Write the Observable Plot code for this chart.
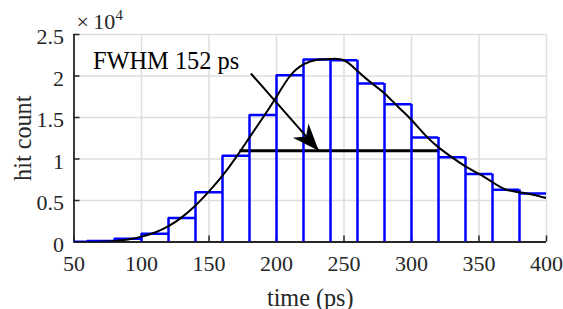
<!DOCTYPE html>
<html><head><meta charset="utf-8">
<script src="https://cdn.jsdelivr.net/npm/d3@7"></script>
<script src="https://cdn.jsdelivr.net/npm/@observablehq/plot@0.6"></script>
<style>body{margin:0;background:#fff} svg{display:block}</style>
</head><body><div id="chart"></div>
<script>
// histogram bins (ps) and hit counts
const binLo  = [40, 60, 80, 100, 120, 140, 160, 180, 200, 220, 240, 260, 280, 300, 320, 340, 360, 380];
const binHi  = [60, 80, 100, 120, 140, 160, 180, 200, 220, 240, 260, 280, 300, 320, 340, 360, 380, 400];
const counts = [30, 120, 400, 1000, 2900, 6000, 10400, 15300, 20100, 22000, 21900, 19100, 16600, 12600, 10200, 8200, 6300, 5850];

// fitted curve
const fitX = [50, 60, 70, 80, 90, 100, 110, 120, 130, 140, 150, 160, 170, 180, 190, 200, 210, 220, 230, 240, 250, 260, 270, 280, 290, 300, 310, 320, 330, 340, 350, 360, 370, 380, 390, 400];
const fitY = [0, 10, 40, 120, 300, 650, 1150, 1900, 3000, 4400, 6100, 8000, 10200, 12600, 15000, 17500, 20000, 21400, 21950, 22050, 21900, 20600, 19200, 17900, 16300, 14700, 12900, 11400, 10200, 9100, 8200, 7200, 6300, 6000, 5700, 5300];

// FWHM annotation
const fwhmStart = 173, fwhmEnd = 320, fwhmLevel = 11000;
const annotText = "FWHM 152 ps";
const textX = 64, textY = 20870;
const arrowFrom = [181, 20300], arrowTo = [231.3, 11000];

// axes
const xTicks = [50, 100, 150, 200, 250, 300, 350, 400];
const yTicks = [0, 5000, 10000, 15000, 20000, 25000];
const yTickLabels = ["0", "0.5", "1", "1.5", "2", "2.5"];
const xLabel = "time (ps)", yLabel = "hit count";
const expBase = "\u00d7\u200910", expPow = "4";

const tops = binLo.map((lo, i) => ({x1: lo, x2: binHi[i], y: counts[i]}));
const edges = binLo.map((lo, i) => ({x: lo, y: Math.max(i ? counts[i - 1] : 0, counts[i])}));
const fit = fitX.map((x, i) => ({x, y: fitY[i]}));

const blue = "#0000ff", axisColor = "#262626", gridColor = "#dedede";
const arrowHead = {
  draw(ctx) { ctx.moveTo(0, 0); ctx.lineTo(10.5, 27); ctx.lineTo(0, 19); ctx.lineTo(-10.5, 27); ctx.closePath(); }
};

const chart = Plot.plot({
  width: 563, height: 309,
  marginLeft: 73.5, marginRight: 17, marginTop: 34, marginBottom: 67.5,
  style: {fontFamily: "'Liberation Serif', 'Times New Roman', serif", fontSize: "22px", color: axisColor, background: "#fff"},
  x: {domain: [50, 400]},
  y: {domain: [0, 25000]},
  marks: [
    Plot.gridX(xTicks, {stroke: gridColor, strokeOpacity: 1, strokeWidth: 1.5}),
    Plot.gridY(yTicks, {stroke: gridColor, strokeOpacity: 1, strokeWidth: 1.5}),
    // axis lines
    Plot.ruleY([0], {stroke: axisColor, strokeWidth: 1.8}),
    Plot.ruleX([50], {stroke: axisColor, strokeWidth: 1.8}),
    // inward ticks
    Plot.axisX({ticks: xTicks, tickSize: 6, dy: -6, text: null, label: null, stroke: axisColor, strokeWidth: 1.5}),
    Plot.axisY({ticks: yTicks, tickSize: 6, dx: 6, text: null, label: null, stroke: axisColor, strokeWidth: 1.5}),
    Plot.ruleY([{x1: fwhmStart, x2: fwhmEnd, y: fwhmLevel}], {x1: "x1", x2: "x2", y: "y", stroke: "#000", strokeWidth: 3}),
    Plot.ruleX(edges, {x: "x", y1: 0, y2: "y", stroke: blue, strokeWidth: 2.5, clip: true}),
    Plot.ruleY(tops, {x1: "x1", x2: "x2", y: "y", stroke: blue, strokeWidth: 2.5, clip: true}),
    Plot.line(fit, {x: "x", y: "y", curve: "natural", stroke: "#000", strokeWidth: 2, clip: true}),
    Plot.link([{a: arrowFrom, b: arrowTo}], {x1: d => d.a[0], y1: d => d.a[1], x2: d => d.b[0], y2: d => d.b[1], stroke: "#000", strokeWidth: 2}),
    Plot.dot([{x: arrowTo[0], y: arrowTo[1]}], {x: "x", y: "y", symbol: arrowHead, r: 5, fill: "#000", stroke: "none", rotate: 138}),
    Plot.text([annotText], {x: textX, y: textY, text: d => d, textAnchor: "start", lineAnchor: "bottom", fontSize: 24.4, fill: "#000"}),
    // tick labels
    Plot.axisX({ticks: xTicks, tickSize: 0, tickPadding: 13, label: null, fontSize: 22, fill: axisColor}),
    Plot.axisY({ticks: yTicks, tickSize: 0, tickPadding: 10, dy: 2.5, label: null, fontSize: 22, fill: axisColor, tickFormat: (d) => yTickLabels[yTicks.indexOf(d)]}),
    // axis titles
    Plot.text([xLabel], {frameAnchor: "bottom", dy: 63.5, textAnchor: "middle", lineAnchor: "bottom", text: d => d, fontSize: 24.2, fill: axisColor}),
    Plot.text([yLabel], {frameAnchor: "left", dx: -51, rotate: -90, textAnchor: "middle", lineAnchor: "middle", text: d => d, fontSize: 24.2, fill: axisColor}),
    // exponent label above the y axis
    Plot.text([expBase], {x: 50, y: 25000, dx: 2.5, dy: -5.7, textAnchor: "start", lineAnchor: "bottom", text: d => d, fontSize: 22, fill: axisColor}),
    Plot.text([expPow], {x: 50, y: 25000, dx: 41.5, dy: -14.7, textAnchor: "start", lineAnchor: "bottom", text: d => d, fontSize: 15, fill: axisColor})
  ]
});
document.getElementById("chart").appendChild(chart);
</script>
</body></html>
